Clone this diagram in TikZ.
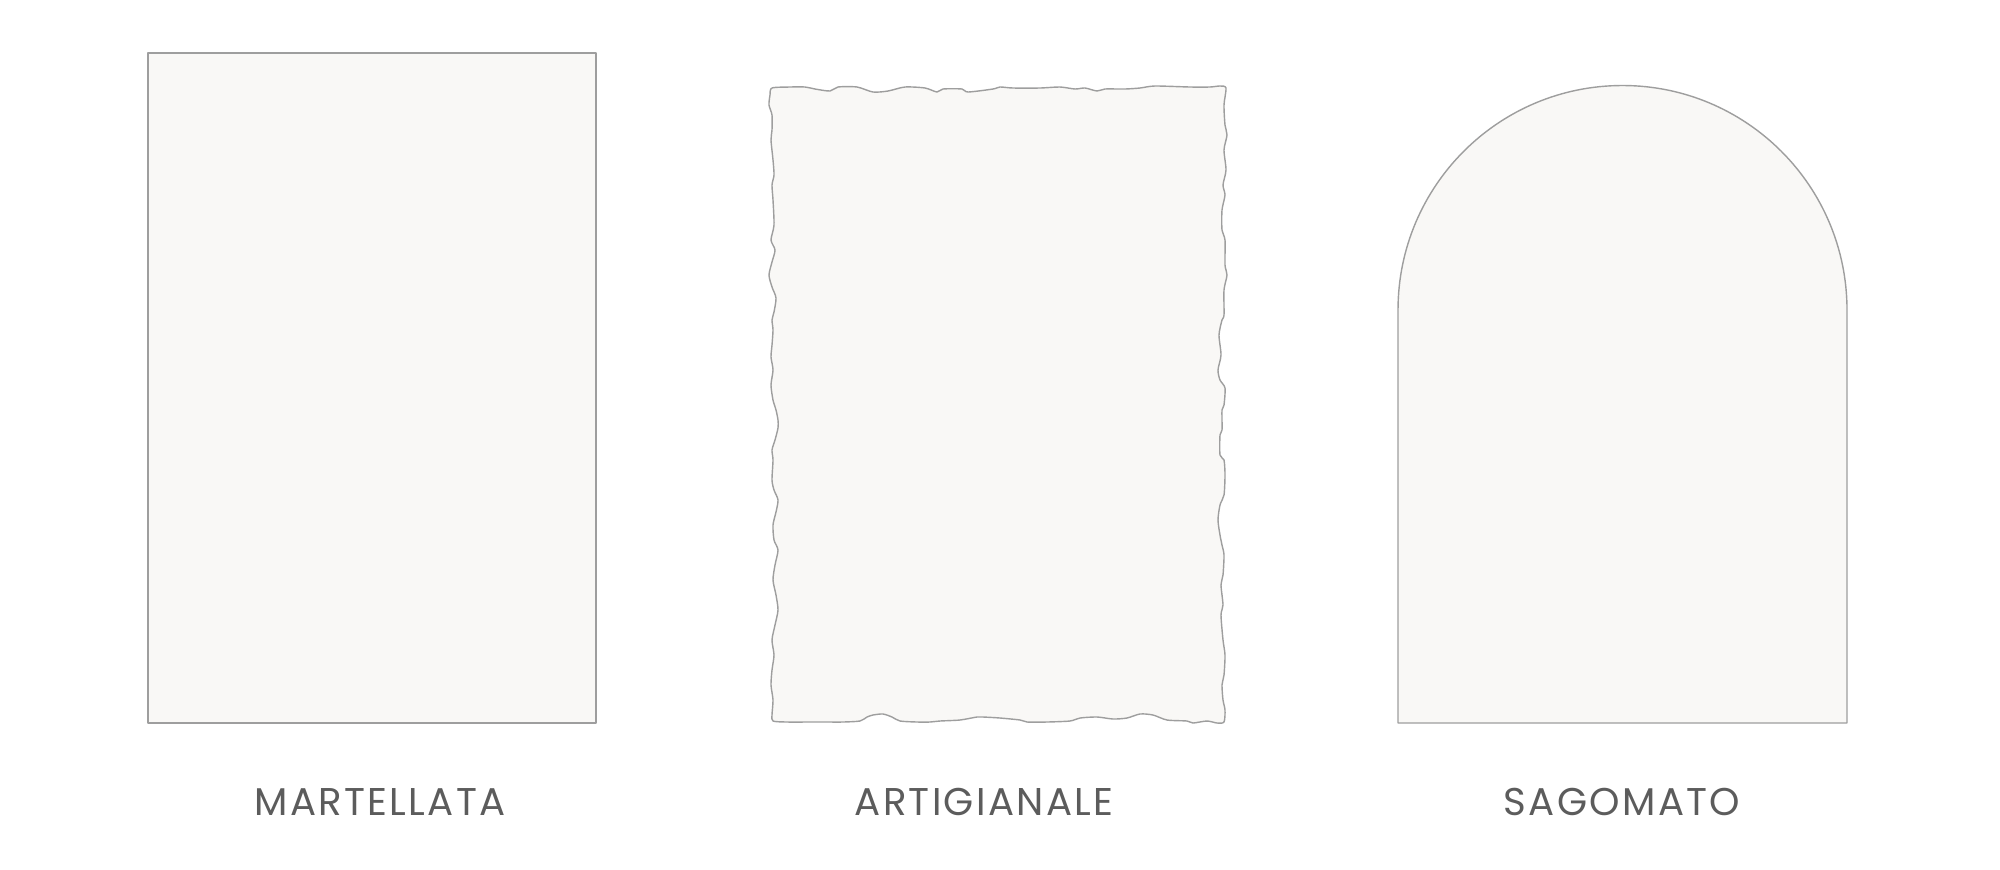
\documentclass[tikz,border=0pt]{standalone}
\usepackage{fontspec}
\usepackage{tikz}
\usetikzlibrary{positioning, calc}
\newfontfamily\labelfont[LetterSpace=6]{Poppins}
\definecolor{paperfill}{RGB}{249,248,246}
\definecolor{paperedge}{RGB}{158,158,158}
\definecolor{labelgray}{RGB}{92,92,92}

\begin{document}
\begin{tikzpicture}[
	  x=0.01cm, y=-0.01cm,
	  shape_style/.style={
		  draw=paperedge,
		  fill=paperfill,
		  line width=0.4pt,
		  line join=round
	  },
	  label_style/.style={
		  anchor=base,
		  text=labelgray,
		  inner sep=0pt,
		  font=\labelfont\fontsize{11}{13}\selectfont
	  }]
	\useasboundingbox (0,0) rectangle (2000,869);
	% Martellata: plain sheet
	\draw[shape_style] (148,53) rectangle (596,723);
	% Artigianale: deckled edges
	\draw[shape_style] plot[smooth cycle, tension=0.45] coordinates {
		(772,88) (790,87) (805,87) (815,89) (830,91) (838,87) (857,87)
		(873,92) (888,91) (905,87) (925,88) (937,92) (943,89) (962,89)
		(968,92) (993,89) (1000,87) (1013,88) (1040,88) (1060,87) (1075,89)
		(1085,88) (1097,91) (1105,89) (1125,89) (1140,88) (1155,86)
		(1190,87) (1210,87) (1220,86) (1226,88)
		% right edge
		(1224,105) (1225,125) (1227,135) (1224,150) (1226,170) (1223,185)
		(1225,195) (1222,210) (1222,230) (1225,240) (1225,265) (1227,275)
		(1224,290) (1224,315) (1222,320) (1219,335) (1221,355) (1218,370)
		(1220,380) (1225,388) (1224,405) (1222,410) (1222,430) (1220,435)
		(1220,455) (1224,460) (1225,475) (1224,495) (1220,505) (1218,520)
		(1220,535) (1222,545) (1224,555) (1223,575) (1221,585) (1223,605)
		(1221,615) (1223,640) (1225,655) (1224,675) (1222,685) (1223,700)
		(1225,710) (1224,722)
		% bottom edge
		(1217,723) (1207,721) (1193,723) (1187,721) (1167,720) (1153,715)
		(1140,714) (1127,718) (1113,719) (1097,717) (1080,718) (1070,721)
		(1047,722) (1027,722) (1020,720) (1000,718) (983,717) (977,717)
		(960,720) (940,721) (930,722) (917,722) (900,721) (892,717)
		(883,714) (873,715) (867,717) (860,721) (843,722) (827,722)
		(810,722) (787,722) (773,721)
		% left edge
		(772,715) (773,700) (771,685) (772,670) (774,655) (772,640)
		(775,625) (778,610) (776,595) (773,580) (775,565) (778,550)
		(774,540) (773,525) (776,512) (778,500) (774,490) (772,480)
		(773,460) (772,450) (775,440) (778,428) (778,420) (776,410)
		(773,400) (771,385) (773,370) (771,357) (772,345) (773,330)
		(772,320) (774,312) (776,298) (772,287) (769,275) (772,262)
		(775,250) (771,240) (774,225) (773,200) (772,185) (774,175)
		(773,160) (771,140) (772,130) (772,115) (769,105) (770,95)};
	% Sagomato: arched sheet
	\draw[shape_style] (1398,723) -- (1398,310)
		arc[start angle=180, end angle=360, radius=224.5] -- (1847,723) -- cycle;
	% labels
	\node[label_style] (martellata) at (380,815) {MARTELLATA};
	\node[label_style] (artigianale) at (984,815) {ARTIGIANALE};
	\node[label_style] (sagomato) at (1622,815) {SAGOMATO};
\end{tikzpicture}
\end{document}
